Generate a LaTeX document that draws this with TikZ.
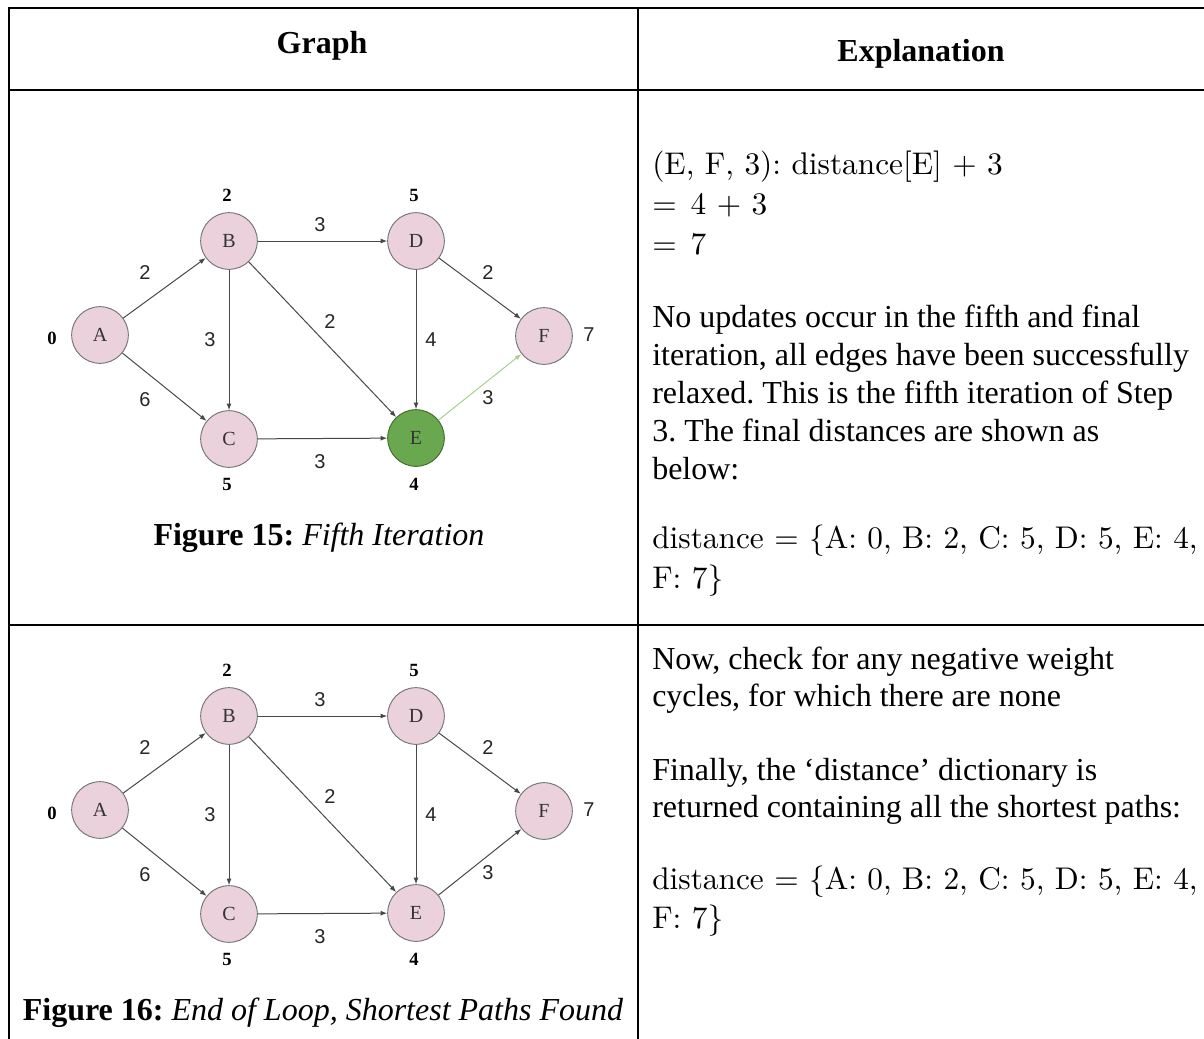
\documentclass[tikz,border=0pt]{standalone}
\usepackage[no-math]{fontspec}
\setmainfont{Liberation Serif}
\newfontfamily\sansw{Liberation Sans}
\newfontfamily\lmten{lmroman10-regular.otf}
\usetikzlibrary{arrows.meta}
\definecolor{nodepink}{HTML}{EAD1DC}
\definecolor{nodegreen}{HTML}{6AA84F}
\definecolor{nodegreenline}{HTML}{3F6B2C}
\definecolor{edgegreen}{HTML}{A8D08D}
\definecolor{edgegray}{HTML}{484848}
\tikzset{
  vtx/.style={circle, draw=black!55, line width=0.7pt, fill=nodepink, minimum size=42.5pt, inner sep=0pt, font=\fontsize{15}{15}\selectfont, text=black!80},
  vtxgreen/.style={vtx, fill=nodegreen, draw=nodegreenline},
  edge/.style={draw=edgegray, line width=0.75pt, -{Latex[length=5pt,width=3.8pt]}},
  greenedge/.style={edge, draw=edgegreen},
  wt/.style={font=\sansw\fontsize{15}{15}\selectfont, text=black!85, inner sep=0pt},
  dist/.style={font=\bfseries\fontsize{14}{14}\selectfont, inner sep=0pt},
  body/.style={anchor=base west, font=\fontsize{24}{24}\selectfont, inner sep=0pt},
  mathline/.style={anchor=base west, font=\lmten\fontsize{23.5}{23.5}\selectfont, inner sep=0pt},
  head/.style={anchor=base, font=\bfseries\fontsize{24}{24}\selectfont, inner sep=0pt},
  capt/.style={anchor=base, font=\fontsize{24}{24}\selectfont, inner sep=0pt},
  rule/.style={line width=1.6pt, line cap=rect}
}
\newcommand\bfgraph[4]{%
\begin{scope}[shift={(0,#2)}]
  \node[vtx] (A#1) at (100,335) {A};
  \node[vtx] (B#1) at (229,241) {B};
  \node[vtx] (C#1) at (229,439) {C};
  \node[vtx] (D#1) at (416,241) {D};
  \node[#3] (E#1) at (416,438) {E};
  \node[vtx] (F#1) at (544,336) {F};
  \draw[edge] (A#1) -- (B#1);
  \draw[edge] (A#1) -- (C#1);
  \draw[edge] (B#1) -- (C#1);
  \draw[edge] (B#1) -- (D#1);
  \draw[edge] (B#1) -- (E#1);
  \draw[edge] (D#1) -- (E#1);
  \draw[edge] (D#1) -- (F#1);
  \draw[edge] (C#1) -- (E#1);
  \draw[#4] (E#1) -- (F#1);
  \node[wt] (wAB#1) at (145,273) {2};
  \node[wt] (wAC#1) at (145,400) {6};
  \node[wt] (wBC#1) at (210,340) {3};
  \node[wt] (wBD#1) at (320,225) {3};
  \node[wt] (wBE#1) at (330,322) {2};
  \node[wt] (wDE#1) at (431,340) {4};
  \node[wt] (wDF#1) at (488,273) {2};
  \node[wt] (wEF#1) at (488,398) {3};
  \node[wt] (wCE#1) at (320,462) {3};
  \node[dist] (dA#1) at (52,338) {0};
  \node[dist] (dB#1) at (227,195) {2};
  \node[dist] (dC#1) at (227,484) {5};
  \node[dist] (dD#1) at (414,195) {5};
  \node[dist] (dE#1) at (414,484) {4};
  \node[wt] (dF#1) at (589,335) {7};
\end{scope}}
\begin{document}
\frenchspacing
\begin{tikzpicture}[x=0.75pt, y=-0.75pt]
\useasboundingbox (0,0) rectangle (1204,1039);
% table
\coordinate (tl) at (9,8);
\coordinate (tr) at (1204,8);
\coordinate (bl) at (9,1039);
\draw[rule] (tl) -- (tr);
\draw[rule] (tl) -- (bl);
\draw[rule] (638,8) -- (638,1039);
\draw[rule] (9,90) -- (1204,90);
\draw[rule] (9,625) -- (1204,625);
% headers
\node[head] (hg) at (322,53) {Graph};
\node[head] (he) at (921,61) {Explanation};
% graphs
\bfgraph{a}{0}{vtxgreen}{greenedge}
\bfgraph{b}{475}{vtx}{edge}
\node[capt] (cap1) at (319,545) {\textbf{Figure 15:} \textit{Fifth Iteration}};
\node[capt] (cap2) at (323,1020) {\textbf{Figure 16:} \textit{End of Loop, Shortest Paths Found}};
% row 1 explanation
\node[mathline] (m1) at (652,174) {(E, F, 3): distance[E] + 3};
\node[mathline] (m2) at (652,214) {=\hspace{0.45em}4 + 3};
\node[mathline] (m3) at (652,254) {=\hspace{0.45em}7};
\node[body] (p1) at (652,327) {No updates occur in the fifth and final};
\node[body] (p2) at (652,365) {iteration, all edges have been successfully};
\node[body] (p3) at (652,403) {relaxed. This is the fifth iteration of Step};
\node[body] (p4) at (652,441) {3. The final distances are shown as};
\node[body] (p5) at (652,479) {below:};
\node[mathline] (d1) at (652,548) {distance = \{A: 0, B: 2, C: 5, D: 5, E: 4,};
\node[mathline] (d2) at (652,588) {F: 7\}};
% row 2 explanation
\node[body] (q1) at (652,669) {Now, check for any negative weight};
\node[body] (q2) at (652,706) {cycles, for which there are none};
\node[body] (q3) at (652,780) {Finally, the ‘distance’ dictionary is};
\node[body] (q4) at (652,817) {returned containing all the shortest paths:};
\node[mathline] (e1) at (652,889) {distance = \{A: 0, B: 2, C: 5, D: 5, E: 4,};
\node[mathline] (e2) at (652,928) {F: 7\}};
\end{tikzpicture}
\end{document}
